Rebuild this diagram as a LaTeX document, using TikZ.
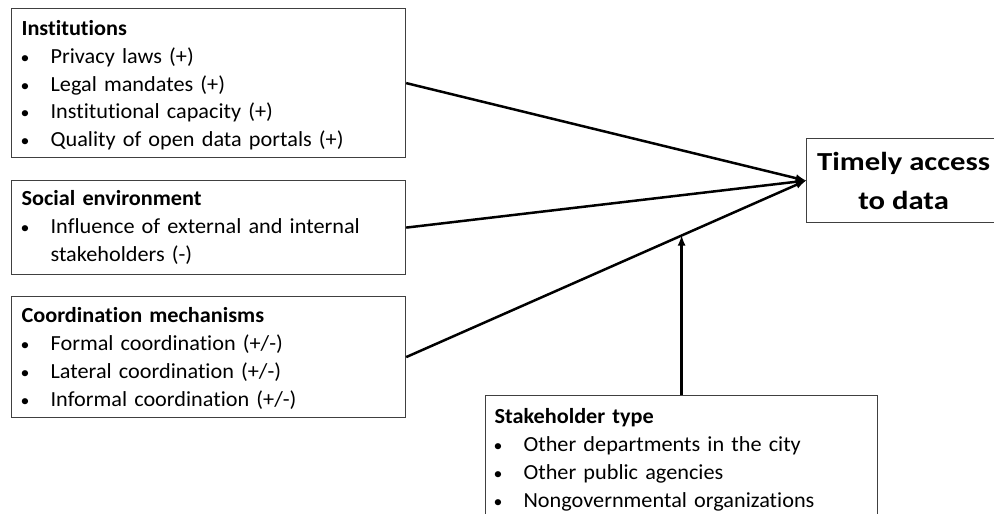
\documentclass[tikz,border=0pt]{standalone}
\usepackage{fontspec}
\setmainfont{Carlito}[FakeStretch=1.035, Ligatures=CommonOff]
\newfontfamily\accessfont{Carlito}[FakeStretch=1.18, Ligatures=CommonOff]
\usepackage{tikz}
\usetikzlibrary{shapes,arrows,positioning,calc}
\usepackage{xcolor}

\newcommand{\bul}[1]{\makebox[29pt][l]{\hspace{-1pt}\scalebox{0.8}{\textbullet}}#1}

\begin{document}
\begin{tikzpicture}[x=1pt, y=-1pt,
    factor/.style={draw=black!75, line width=1.2pt, anchor=north west, align=left,
        inner xsep=10pt, inner ysep=0pt, text width=374pt,
        font=\fontsize{21.5}{27.8}\selectfont},
    link/.style={->, >=latex, line width=2.5pt}]
    \clip (0,0) rectangle (994,514);

    % Factors on the left
    \node[factor, text height=27pt, text depth=122pt] (inst) at (11,8) {\textbf{Institutions}\\
        \bul{Privacy laws (+)}\\
        \bul{Legal mandates (+)}\\
        \bul{Institutional capacity (+)}\\
        \bul{Quality of open data portals (+)}};
    \node[factor, text height=25pt, text depth=69pt] (social) at (11,180) {\textbf{Social environment}\\
        \bul{Influence of external and internal}\\
        \hspace*{29pt}stakeholders (-)};
    \node[factor, text height=26pt, text depth=95pt] (coord) at (11,296) {\textbf{Coordination mechanisms}\\
        \bul{Formal coordination (+/-)}\\
        \bul{Lateral coordination (+/-)}\\
        \bul{Informal coordination (+/-)}};

    % Outcome
    \node[draw=black!75, line width=1.2pt, anchor=north west, align=center,
        minimum width=194pt, minimum height=84pt, inner sep=0pt,
        font=\accessfont\bfseries\fontsize{26}{39}\selectfont] (access) at (806,138) {Timely access\\to data};

    % Moderator
    \node[factor, inner xsep=9pt, text height=28pt, text depth=97pt] (stake) at (485,395) {\textbf{Stakeholder type}\\
        \bul{Other departments in the city}\\
        \bul{Other public agencies}\\
        \bul{Nongovernmental organizations}};

    \draw[link] (inst.east) -- (access.west);
    \draw[link] (social.east) -- (access.west);
    \draw[link] (coord.east) -- (access.west);
    \coordinate (join) at ($(coord.east)!0.69!(access.west)$);
    \draw[link] (stake.north) -- (stake.north |- join);
\end{tikzpicture}
\end{document}
